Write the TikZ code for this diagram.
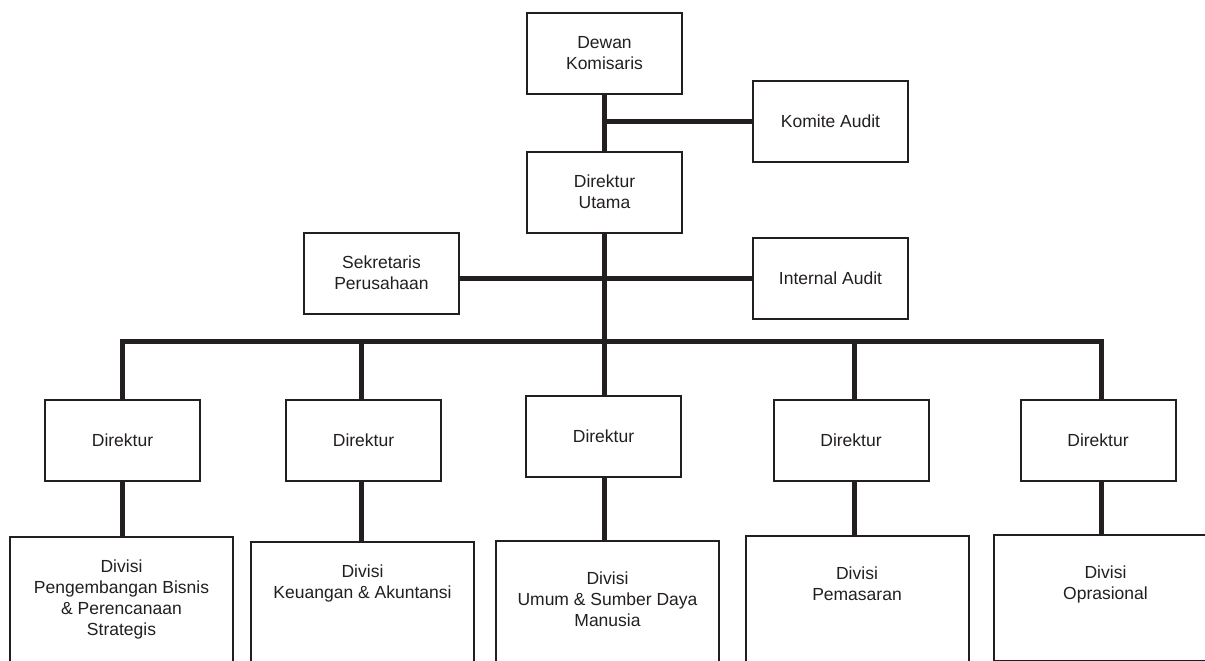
\documentclass[tikz,border=0pt]{standalone}
\usepackage{fontspec}
\setmainfont{Liberation Sans}
\usetikzlibrary{positioning}
\definecolor{ink}{HTML}{231F20}

\begin{document}
\begin{tikzpicture}[x=1pt, y=-1pt,
	box/.style={draw=ink, line width=2pt, minimum width=155pt, minimum height=81pt, inner sep=0pt, align=center, text=ink, font=\fontsize{17.5}{21}\selectfont},
	divbox/.style={draw=ink, line width=2pt, minimum width=223pt, minimum height=#1, anchor=north, inner sep=0pt},
	divtext/.style={inner sep=0pt, align=center, text=ink, font=\fontsize{17.5}{21}\selectfont},
	link/.style={draw=ink, line width=5pt}]
	\useasboundingbox (0,0) rectangle (1205,661);
	\fill[white] (0,0) rectangle (1205,661);
	\clip (0,0) rectangle (1205,661);
	\node[box] (dewan) at (604.5,53.5) {Dewan\\Komisaris};
	\node[box] (komite) at (830.5,121.5) {Komite Audit};
	\node[box] (utama) at (604.5,192) {Direktur\\Utama};
	\node[box] (sekretaris) at (381.5,273) {Sekretaris\\Perusahaan};
	\node[box] (internal) at (830.5,278.5) {Internal Audit};
	\node[box] (dir1) at (122.5,440) {Direktur};
	\node[box] (dir2) at (363.5,440.5) {Direktur};
	\node[box] (dir3) at (603.5,436) {Direktur};
	\node[box] (dir4) at (851,440) {Direktur};
	\node[box] (dir5) at (1098,440) {Direktur};
	\node[divbox=200pt] (div1) at (121.5,536) {};
	\node[divbox=200pt] (div2) at (362.5,541) {};
	\node[divbox=200pt] (div3) at (607.5,540) {};
	\node[divbox=200pt] (div4) at (857,535) {};
	\node[divbox=126pt] (div5) at (1105.5,534) {};
	\node[divtext, below=24pt of div1.north] (lbl1) {Divisi\\Pengembangan Bisnis\\\& Perencanaan\\Strategis};
	\node[divtext, below=24pt of div2.north] (lbl2) {Divisi\\Keuangan \& Akuntansi};
	\node[divtext, below=32pt of div3.north] (lbl3) {Divisi\\Umum \& Sumber Daya\\Manusia};
	\node[divtext, below=32pt of div4.north] (lbl4) {Divisi\\Pemasaran};
	\node[divtext, below=32pt of div5.north] (lbl5) {Divisi\\Oprasional};
	\coordinate (t1) at (122.5,341);
	\coordinate (t2) at (361,341);
	\coordinate (t3) at (604.5,341);
	\coordinate (t4) at (854,341);
	\coordinate (t5) at (1101,341);
	\draw[link] (dewan) -- (utama);
	\draw[link] (komite.west -| dewan) -- (komite);
	\draw[link] (utama) -- (t3);
	\draw[link] (sekretaris.east |- internal.west) -- (internal.west);
	\draw[link, line join=miter] (t1 |- dir1.north) -- (t1) -- (t5) -- (t5 |- dir5.north);
	\foreach \i in {2,3,4}
		\draw[link] (t\i) -- (t\i |- dir\i.north);
	\foreach \i in {1,...,5}
		\draw[link] (t\i |- dir\i.south) -- (t\i |- div\i.north);
\end{tikzpicture}
\end{document}
